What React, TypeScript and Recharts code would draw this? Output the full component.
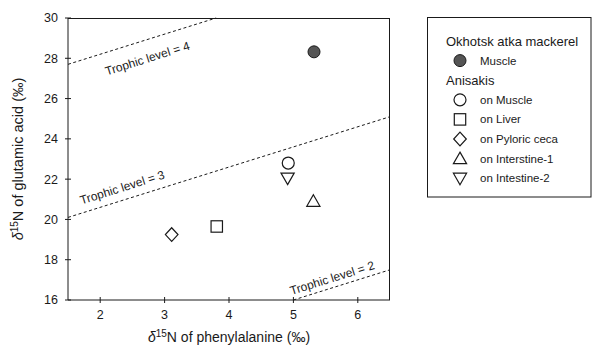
import React from 'react';
import { ComposedChart, Scatter, XAxis, YAxis, ReferenceLine, Legend } from 'recharts';

// ---------- data ----------
const xTicks = [2, 3, 4, 5, 6];
const yTicks = [16, 18, 20, 22, 24, 26, 28, 30];
const xDomain = [1.5, 6.5];
const yDomain = [16, 30];

const mackerelMuscle = [{ phe: 5.32, glu: 28.32 }];
const anisakisMuscle = [{ phe: 4.92, glu: 22.8 }];
const anisakisLiver = [{ phe: 3.81, glu: 19.65 }];
const anisakisPyloric = [{ phe: 3.11, glu: 19.25 }];
const anisakisIntestine1 = [{ phe: 5.31, glu: 20.9 }];
const anisakisIntestine2 = [{ phe: 4.91, glu: 22.05 }];

const trophicLevels = [4, 3, 2];
const trophicStarts = [{ phe: 1.5, glu: 27.7 }, { phe: 1.5, glu: 20.1 }, { phe: 5.0, glu: 16 }];
const trophicEnds = [{ phe: 3.8, glu: 30 }, { phe: 6.5, glu: 25.1 }, { phe: 6.5, glu: 17.5 }];

const FONT = '"Liberation Sans", Arial, Helvetica, sans-serif';
const INK = '#1a1a1a';
const CHART_W = 593;
const CHART_H = 346;
const MARGIN = { top: 18, right: 203, bottom: 0, left: 0 };
const Y_AXIS_W = 68;
const X_AXIS_H = 46;

// label placement: fraction along the segment, perpendicular offset (px, + = below)
const labelPlace = [
  { t: 0.5, off: 18 },
  { t: 0.18, off: -12.5 },
  { t: 0.43, off: -9.5 },
];

// ---------- marker shapes ----------
type MP = { cx?: number; cy?: number };
const FilledCircle = ({ cx = 0, cy = 0 }: MP) => (
  <circle cx={cx} cy={cy} r={6} fill="#555" stroke={INK} strokeWidth={1} />
);
const OpenCircle = ({ cx = 0, cy = 0 }: MP) => (
  <circle cx={cx} cy={cy} r={6} fill="#fff" stroke={INK} strokeWidth={1.2} />
);
const OpenSquare = ({ cx = 0, cy = 0 }: MP) => (
  <rect x={cx - 5.7} y={cy - 5.7} width={11.4} height={11.4} fill="#fff" stroke={INK} strokeWidth={1.2} />
);
const OpenDiamond = ({ cx = 0, cy = 0 }: MP) => (
  <polygon
    points={`${cx},${cy - 6.8} ${cx + 6.3},${cy} ${cx},${cy + 6.8} ${cx - 6.3},${cy}`}
    fill="#fff"
    stroke={INK}
    strokeWidth={1.2}
  />
);
const TriUp = ({ cx = 0, cy = 0 }: MP) => (
  <polygon
    points={`${cx},${cy - 6.5} ${cx + 6.6},${cy + 5} ${cx - 6.6},${cy + 5}`}
    fill="#fff"
    stroke={INK}
    strokeWidth={1.2}
  />
);
const TriDown = ({ cx = 0, cy = 0 }: MP) => (
  <polygon
    points={`${cx},${cy + 6.5} ${cx + 6.6},${cy - 5} ${cx - 6.6},${cy - 5}`}
    fill="#fff"
    stroke={INK}
    strokeWidth={1.2}
  />
);

// ---------- ticks ----------
const X_TS = 3;
const X_TM = 7;
const Y_TS = 3;
const Y_TM = 7;

const XTick = (props: any) => {
  const { x, y, payload } = props;
  const axisY = y - X_TS - X_TM;
  return (
    <g>
      <line x1={x} x2={x} y1={axisY - 3} y2={axisY + 3} stroke={INK} />
      <text x={x} y={y} dy="0.71em" textAnchor="middle" fontSize={12.5} fontFamily={FONT} fill={INK}>
        {payload.value}
      </text>
    </g>
  );
};
const YTick = (props: any) => {
  const { x, y, payload } = props;
  const axisX = x + Y_TS + Y_TM;
  return (
    <g>
      <line x1={axisX - 3} x2={axisX + 3} y1={y} y2={y} stroke={INK} />
      <text x={x} y={y} dy="0.355em" textAnchor="end" fontSize={12.5} fontFamily={FONT} fill={INK}>
        {payload.value}
      </text>
    </g>
  );
};

const XTitle = (props: any) => {
  const vb = props.viewBox || {};
  return (
    <text x={vb.x + vb.width / 2} y={vb.y + 42} textAnchor="middle" fontSize={14} fontFamily={FONT} fill={INK}>
      <tspan fontStyle="italic">δ</tspan>
      <tspan fontSize={10} dy={-5}>15</tspan>
      <tspan dy={5}>N of phenylalanine (‰)</tspan>
    </text>
  );
};

const YTitle = (props: any) => {
  const vb = props.viewBox || {};
  const cx = vb.x + 18;
  const cy = vb.y + vb.height / 2;
  return (
    <text
      x={cx}
      y={cy}
      transform={`rotate(-90 ${cx} ${cy})`}
      textAnchor="middle"
      dy="0.35em"
      fontSize={14.5}
      fontFamily={FONT}
      fill={INK}
    >
      <tspan fontStyle="italic">δ</tspan>
      <tspan fontSize={10} dy={-5}>15</tspan>
      <tspan dy={5}>N of glutamic acid (‰)</tspan>
    </text>
  );
};

const makeTrophicLabel = (i: number) => (props: any) => {
  const vb = props.viewBox || {};
  const x1 = vb.x;
  const y1 = vb.y + vb.height;
  const dx = vb.width;
  const dy = -vb.height;
  const len = Math.sqrt(dx * dx + dy * dy) || 1;
  const { t, off } = labelPlace[i];
  const nx = -dy / len;
  const ny = dx / len;
  const px = x1 + dx * t + nx * off;
  const py = y1 + dy * t + ny * off;
  const ang = (Math.atan2(dy, dx) * 180) / Math.PI;
  return (
    <text
      x={px}
      y={py}
      transform={`rotate(${ang} ${px} ${py})`}
      textAnchor="middle"
      dy="0.35em"
      fontSize={12}
      fontFamily={FONT}
      fill={INK}
    >
      {`Trophic level = ${trophicLevels[i]}`}
    </text>
  );
};

// ---------- legend ----------
const legendRows = [
  { kind: 'title', text: 'Okhotsk atka mackerel' },
  { kind: 'item', text: 'Muscle', Shape: FilledCircle },
  { kind: 'title', text: 'Anisakis' },
  { kind: 'item', text: 'on Muscle', Shape: OpenCircle },
  { kind: 'item', text: 'on Liver', Shape: OpenSquare },
  { kind: 'item', text: 'on Pyloric ceca', Shape: OpenDiamond },
  { kind: 'item', text: 'on Interstine-1', Shape: TriUp },
  { kind: 'item', text: 'on Intestine-2', Shape: TriDown },
];

const LegendBox = () => (
  <svg width={165} height={181} style={{ display: 'block' }}>
    <rect x={0.5} y={0.5} width={163.5} height={179.5} fill="#fff" stroke={INK} strokeWidth={1} />
    {legendRows.map((r, i) => {
      const cy = 24 + i * 19.6;
      if (r.kind === 'title') {
        return (
          <text key={i} x={19} y={cy} dy="0.35em" fontSize={13} fontFamily={FONT} fill={INK}>
            {r.text}
          </text>
        );
      }
      const S = r.Shape as any;
      return (
        <g key={i}>
          <S cx={33} cy={cy} />
          <text x={53} y={cy} dy="0.35em" fontSize={11.5} fontFamily={FONT} fill={INK}>
            {r.text}
          </text>
        </g>
      );
    })}
  </svg>
);

// plot-frame overlay (top and right edges of the plot box)
const plotLeft = MARGIN.left + Y_AXIS_W;
const plotTop = MARGIN.top;
const plotRight = CHART_W - MARGIN.right;
const plotBottom = CHART_H - MARGIN.bottom - X_AXIS_H;

export default function App() {
  return (
    <div style={{ position: 'absolute', left: 0, top: 0, width: CHART_W, height: CHART_H, background: '#fff' }}>
      <ComposedChart width={CHART_W} height={CHART_H} margin={MARGIN}>
        <XAxis
          dataKey="phe"
          type="number"
          domain={xDomain}
          ticks={xTicks}
          height={X_AXIS_H}
          stroke={INK}
          tickLine={false}
          tickSize={X_TS}
          tickMargin={X_TM}
          tick={<XTick />}
          label={<XTitle />}
        />
        <YAxis
          dataKey="glu"
          type="number"
          domain={yDomain}
          ticks={yTicks}
          width={Y_AXIS_W}
          stroke={INK}
          tickLine={false}
          tickSize={Y_TS}
          tickMargin={Y_TM}
          tick={<YTick />}
          label={<YTitle />}
        />

        {trophicLevels.map((lv, i) => (
          <ReferenceLine
            key={lv}
            segment={[
              { x: trophicStarts[i].phe, y: trophicStarts[i].glu },
              { x: trophicEnds[i].phe, y: trophicEnds[i].glu },
            ]}
            stroke={INK}
            strokeWidth={1}
            strokeDasharray="3 2.5"
            ifOverflow="visible"
            label={makeTrophicLabel(i)}
          />
        ))}

        <Scatter name="Muscle" data={mackerelMuscle} shape={<FilledCircle />} isAnimationActive={false} />
        <Scatter name="on Muscle" data={anisakisMuscle} shape={<OpenCircle />} isAnimationActive={false} />
        <Scatter name="on Liver" data={anisakisLiver} shape={<OpenSquare />} isAnimationActive={false} />
        <Scatter name="on Pyloric ceca" data={anisakisPyloric} shape={<OpenDiamond />} isAnimationActive={false} />
        <Scatter name="on Interstine-1" data={anisakisIntestine1} shape={<TriUp />} isAnimationActive={false} />
        <Scatter name="on Intestine-2" data={anisakisIntestine2} shape={<TriDown />} isAnimationActive={false} />

        <Legend
          layout="vertical"
          align="center"
          verticalAlign="middle"
          wrapperStyle={{ position: 'absolute', left: 427, top: 17, width: 165, height: 181 }}
          content={() => <LegendBox />}
        />
      </ComposedChart>
      <div
        style={{
          position: 'absolute',
          left: plotLeft,
          top: plotTop - 0.5,
          width: plotRight - plotLeft,
          height: plotBottom - plotTop,
          borderTop: `1px solid ${INK}`,
          borderRight: `1px solid ${INK}`,
          boxSizing: 'border-box',
          pointerEvents: 'none',
          zIndex: 10,
        }}
      />
    </div>
  );
}
